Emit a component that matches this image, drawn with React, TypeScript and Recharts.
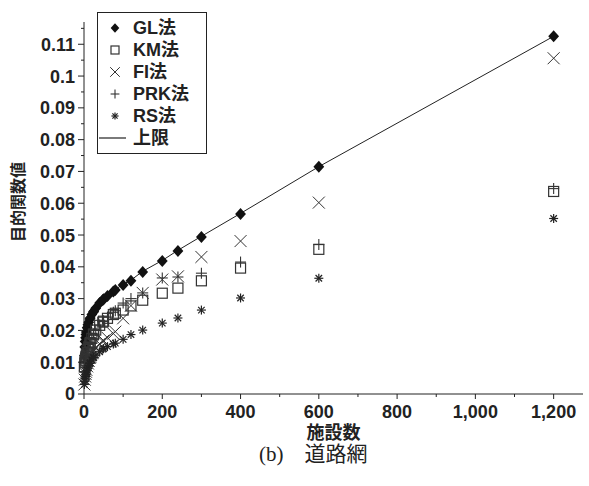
import React from "react";
import { ScatterChart, Scatter, XAxis, YAxis, Legend } from "recharts";

// number of facilities (x) and objective values per method
const FACILITIES = [1, 2, 3, 4, 5, 6, 8, 10, 12, 15, 16, 20, 24, 25, 30, 40, 48, 50, 60, 75, 80, 100, 120, 150, 200, 240, 300, 400, 600, 1200];
const GL = [0.012, 0.0148, 0.0165, 0.0177, 0.0187, 0.0195, 0.0208, 0.0218, 0.0226, 0.0236, 0.0239, 0.025, 0.0258, 0.026, 0.027, 0.0286, 0.0296, 0.0298, 0.0308, 0.0322, 0.0327, 0.0343, 0.0356, 0.0384, 0.0418, 0.045, 0.0494, 0.0566, 0.0715, 0.1125];
const KM = [0.0085, 0.0098, 0.0106, 0.0113, 0.0118, 0.0123, 0.0132, 0.014, 0.0148, 0.0158, 0.0162, 0.0175, 0.0186, 0.0189, 0.0201, 0.0216, 0.0226, 0.0229, 0.0238, 0.025, 0.0254, 0.0264, 0.0277, 0.0295, 0.0317, 0.0333, 0.0356, 0.0396, 0.0455, 0.0637];
const FI = [0.003, 0.0045, 0.0055, 0.0063, 0.007, 0.0076, 0.0087, 0.0096, 0.0104, 0.0114, 0.0117, 0.0128, 0.0136, 0.0138, 0.0146, 0.0158, 0.0166, 0.0168, 0.0177, 0.019, 0.0196, 0.0238, 0.0278, 0.0318, 0.036, 0.037, 0.0431, 0.0481, 0.0602, 0.1056];
const PRK = [0.007, 0.0085, 0.0095, 0.0104, 0.0111, 0.0117, 0.0128, 0.0138, 0.0147, 0.0158, 0.0162, 0.0175, 0.0186, 0.0189, 0.02, 0.0217, 0.0228, 0.023, 0.0242, 0.0257, 0.0262, 0.0286, 0.03, 0.0318, 0.0365, 0.0368, 0.038, 0.0415, 0.047, 0.0646];
const RS = [0.003, 0.004, 0.0048, 0.0055, 0.0061, 0.0066, 0.0075, 0.0082, 0.0088, 0.0096, 0.0098, 0.0107, 0.0114, 0.0115, 0.0122, 0.0133, 0.0141, 0.0143, 0.0149, 0.0157, 0.016, 0.0172, 0.0187, 0.0201, 0.0223, 0.0239, 0.0264, 0.0302, 0.0364, 0.0552];
const UPPER = [0.0122, 0.015, 0.0167, 0.0179, 0.0189, 0.0197, 0.021, 0.022, 0.0228, 0.0238, 0.0241, 0.0252, 0.026, 0.0262, 0.0272, 0.0288, 0.0298, 0.03, 0.031, 0.0324, 0.0329, 0.0345, 0.0358, 0.0386, 0.042, 0.0452, 0.0496, 0.0568, 0.0715, 0.1125];

const X_MAJOR = [0, 200, 400, 600, 800, 1000, 1200];
const X_MINOR = [100, 300, 500, 700, 900, 1100];
const Y_MAJOR = [0, 0.01, 0.02, 0.03, 0.04, 0.05, 0.06, 0.07, 0.08, 0.09, 0.1, 0.11];
const Y_MINOR = [0.005, 0.015, 0.025, 0.035, 0.045, 0.055, 0.065, 0.075, 0.085, 0.095, 0.105, 0.115];

const X_LABEL = "施設数";
const Y_LABEL = "目的関数値";
const CAPTION = "(b)\u3000道路網";

const INK = "#222";
const FONT = '"Liberation Sans", Arial, "Noto Sans CJK JP", sans-serif';

const toPoints = (ys: number[]) => FACILITIES.map((x, i) => ({ x, y: ys[i] }));

function Marker({ kind, cx, cy, small }: { kind: string; cx: number; cy: number; small?: boolean }) {
  const k = small ? 0.8 : 1;
  if (kind === "diamond") {
    const h = 6 * k;
    return <path d={`M${cx},${cy - h}L${cx + h * 0.9},${cy}L${cx},${cy + h}L${cx - h * 0.9},${cy}Z`} fill="#111" />;
  }
  if (kind === "square") {
    const s = 5 * k;
    return <rect x={cx - s} y={cy - s} width={s * 2} height={s * 2} fill="none" stroke="#333" strokeWidth={1.2} />;
  }
  if (kind === "cross") {
    const s = 6 * k;
    return (
      <g stroke="#333" strokeWidth={1}>
        <line x1={cx - s} y1={cy - s} x2={cx + s} y2={cy + s} />
        <line x1={cx - s} y1={cy + s} x2={cx + s} y2={cy - s} />
      </g>
    );
  }
  if (kind === "plus") {
    const s = 5.5 * k;
    return (
      <g stroke="#333" strokeWidth={1.1}>
        <line x1={cx - s} y1={cy} x2={cx + s} y2={cy} />
        <line x1={cx} y1={cy - s} x2={cx} y2={cy + s} />
      </g>
    );
  }
  if (kind === "star") {
    const s = 4.5 * k;
    const d = s * 0.72;
    return (
      <g stroke="#222" strokeWidth={1.2}>
        <line x1={cx - s} y1={cy} x2={cx + s} y2={cy} />
        <line x1={cx} y1={cy - s} x2={cx} y2={cy + s} />
        <line x1={cx - d} y1={cy - d} x2={cx + d} y2={cy + d} />
        <line x1={cx - d} y1={cy + d} x2={cx + d} y2={cy - d} />
      </g>
    );
  }
  return <g />;
}

const SERIES = [
  { name: "GL法", kind: "diamond", values: GL },
  { name: "KM法", kind: "square", values: KM },
  { name: "FI法", kind: "cross", values: FI },
  { name: "PRK法", kind: "plus", values: PRK },
  { name: "RS法", kind: "star", values: RS },
];
const UPPER_NAME = "上限";

const isIn = (list: number[], v: number) => list.some((m) => Math.abs(m - v) < 1e-9);

function XTick({ x, y, payload }: any) {
  const v = payload.value;
  const major = isIn(X_MAJOR, v);
  return (
    <g>
      <line x1={x} x2={x} y1={y} y2={y + (major ? 5 : 3)} stroke={INK} />
      {major && (
        <text x={x} y={y + 11} dy="0.71em" textAnchor="middle" fill={INK} fontFamily={FONT} fontWeight="bold" fontSize={18}>
          {v.toLocaleString("en-US")}
        </text>
      )}
    </g>
  );
}

function YTick({ x, y, payload }: any) {
  const v = payload.value;
  const major = isIn(Y_MAJOR, v);
  return (
    <g>
      <line x1={x} x2={x - (major ? 6 : 3)} y1={y} y2={y} stroke={INK} />
      {major && (
        <text x={x - 9} y={y} dy="0.36em" textAnchor="end" fill={INK} fontFamily={FONT} fontWeight="bold" fontSize={18}>
          {String(v)}
        </text>
      )}
    </g>
  );
}

function LegendBox() {
  const rows = [...SERIES.map((s) => ({ name: s.name, kind: s.kind })), { name: UPPER_NAME, kind: "line" }];
  return (
    <div style={{ border: `1px solid ${INK}`, background: "#fff", padding: "4px 8px 4px 0", width: 100 }}>
      {rows.map((r) => (
        <div key={r.name} style={{ display: "flex", alignItems: "center", height: 22 }}>
          <svg width={34} height={22} style={{ display: "block" }}>
            {r.kind === "line" ? (
              <line x1={1} x2={28} y1={11} y2={11} stroke={INK} strokeWidth={1.2} />
            ) : (
              <Marker kind={r.kind} cx={17} cy={11} small />
            )}
          </svg>
          <span style={{ fontFamily: FONT, fontWeight: "bold", fontSize: 18, color: INK, marginLeft: 1, lineHeight: "22px" }}>
            {r.name}
          </span>
        </div>
      ))}
    </div>
  );
}

export default function App() {
  return (
    <div style={{ position: "absolute", left: 0, top: 0, width: 589, height: 486, background: "#fff" }}>
      <ScatterChart width={589} height={486} margin={{ top: 22, right: 6, left: 0, bottom: 34 }}>
        <XAxis
          type="number"
          dataKey="x"
          domain={[0, 1275]}
          ticks={[...X_MAJOR, ...X_MINOR].sort((a, b) => a - b)}
          interval={0}
          tick={<XTick />}
          tickLine={false}
          tickSize={0}
          tickMargin={0}
          axisLine={{ stroke: INK }}
          height={58}
          label={{
            value: X_LABEL,
            content: ({ viewBox }: any) => (
              <text x={viewBox.x + viewBox.width / 2} y={viewBox.y + 39} dy="0.36em" textAnchor="middle" fill={INK} fontFamily={FONT} fontWeight="bold" fontSize={18}>
                {X_LABEL}
              </text>
            ),
          }}
        />
        <YAxis
          type="number"
          dataKey="y"
          domain={[0, 0.117]}
          ticks={[...Y_MAJOR, ...Y_MINOR].sort((a, b) => a - b)}
          interval={0}
          tick={<YTick />}
          tickLine={false}
          tickSize={0}
          tickMargin={0}
          axisLine={{ stroke: INK }}
          width={84}
          label={{
            value: Y_LABEL,
            content: ({ viewBox }: any) => {
              const cy = viewBox.y + viewBox.height / 2 - 6;
              return (
                <text x={18} y={cy} dy="0.36em" textAnchor="middle" transform={`rotate(-90, 18, ${cy})`} fill={INK} fontFamily={FONT} fontWeight="bold" fontSize={16}>
                  {Y_LABEL}
                </text>
              );
            },
          }}
        />
        <Legend
          layout="vertical"
          align="center"
          verticalAlign="middle"
          wrapperStyle={{ left: 97, top: 12, width: "auto" }}
          content={() => <LegendBox />}
        />
        <Scatter
          name={UPPER_NAME}
          data={toPoints(UPPER)}
          line={{ stroke: INK, strokeWidth: 1 }}
          shape={() => <g />}
          isAnimationActive={false}
        />
        {SERIES.map((s) => (
          <Scatter
            key={s.name}
            name={s.name}
            data={toPoints(s.values)}
            shape={(p: any) => <Marker kind={s.kind} cx={p.cx} cy={p.cy} />}
            isAnimationActive={false}
          />
        ))}
      </ScatterChart>
      <div
        style={{
          position: "absolute",
          left: 259,
          top: 437,
          fontFamily: '"Liberation Serif", "Noto Sans CJK JP", serif',
          fontSize: 21,
          color: INK,
          whiteSpace: "nowrap",
        }}
      >
        {CAPTION}
      </div>
    </div>
  );
}
